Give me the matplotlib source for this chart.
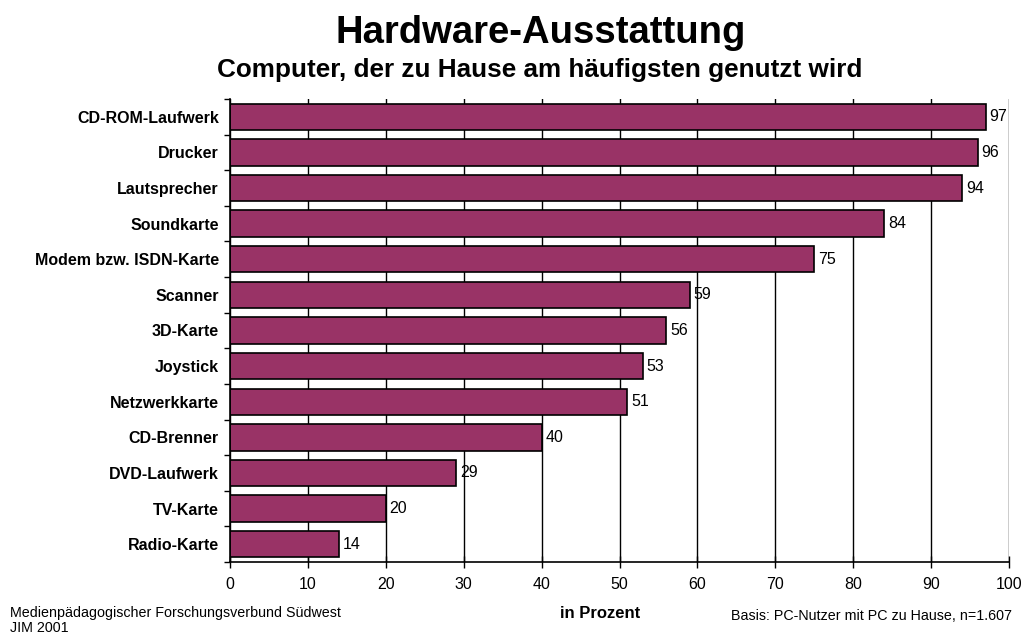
import matplotlib
matplotlib.use("Agg")
import matplotlib.pyplot as plt

plt.rcParams['font.family'] = ['Liberation Sans', 'DejaVu Sans']

categories = ["CD-ROM-Laufwerk", "Drucker", "Lautsprecher", "Soundkarte",
              "Modem bzw. ISDN-Karte", "Scanner", "3D-Karte", "Joystick",
              "Netzwerkkarte", "CD-Brenner", "DVD-Laufwerk", "TV-Karte",
              "Radio-Karte"]
values = [97, 96, 94, 84, 75, 59, 56, 53, 51, 40, 29, 20, 14]
xticks = [0, 10, 20, 30, 40, 50, 60, 70, 80, 90, 100]

W, H = 1023, 635
fig = plt.figure(figsize=(W / 100, H / 100), dpi=100)
ax = fig.add_axes([230 / W, 1 - 562 / H, (1009 - 230) / W, (562 - 99) / H])

n = len(categories)
ypos = list(range(n))
ax.barh(ypos, values, height=0.74, color="#993366", edgecolor="black",
        linewidth=1.2, zorder=3)
for y, v in zip(ypos, values):
    ax.text(v + 0.5, y, str(v), va="center", ha="left", fontsize=11.5, zorder=4)

ax.set_ylim(n - 0.5, -0.5)
ax.set_xlim(0, 100)
ax.set_xticks(xticks)
ax.set_xticklabels([str(t) for t in xticks], fontsize=11.5)
ax.set_yticks(ypos)
ax.set_yticklabels(categories, fontsize=11.5, fontweight="bold")
ax.tick_params(axis="y", which="major", length=0, pad=8)
ax.set_yticks([i + 0.5 for i in range(-1, n)], minor=True)
ax.tick_params(axis="y", which="minor", length=4, width=1, direction="out")
ax.tick_params(axis="x", length=8, width=1, direction="inout", pad=7)

ax.grid(axis="x", color="black", linewidth=1, zorder=1)
ax.set_axisbelow(True)
for s in ["top", "right"]:
    ax.spines[s].set_visible(False)
for s in ["left", "bottom"]:
    ax.spines[s].set_linewidth(1.2)
    ax.spines[s].set_zorder(5)

fig.text(541 / W, 1 - 43 / H, "Hardware-Ausstattung", ha="center", va="baseline",
         fontsize=27.5, fontweight="bold")
fig.text(540 / W, 1 - 77 / H, "Computer, der zu Hause am häufigsten genutzt wird",
         ha="center", va="baseline", fontsize=18.8, fontweight="bold")

fig.text(600 / W, 1 - 618 / H, "in Prozent", ha="center", va="baseline",
         fontsize=12, fontweight="bold")
fig.text(10 / W, 1 - 617 / H, "Medienpädagogischer Forschungsverbund Südwest",
         ha="left", va="baseline", fontsize=10.3)
fig.text(10 / W, 1 - 632 / H, "JIM 2001", ha="left", va="baseline", fontsize=10.3)
fig.text(1012 / W, 1 - 620 / H, "Basis: PC-Nutzer mit PC zu Hause, n=1.607",
         ha="right", va="baseline", fontsize=10.3)

fig.savefig("out.png", dpi=100)
